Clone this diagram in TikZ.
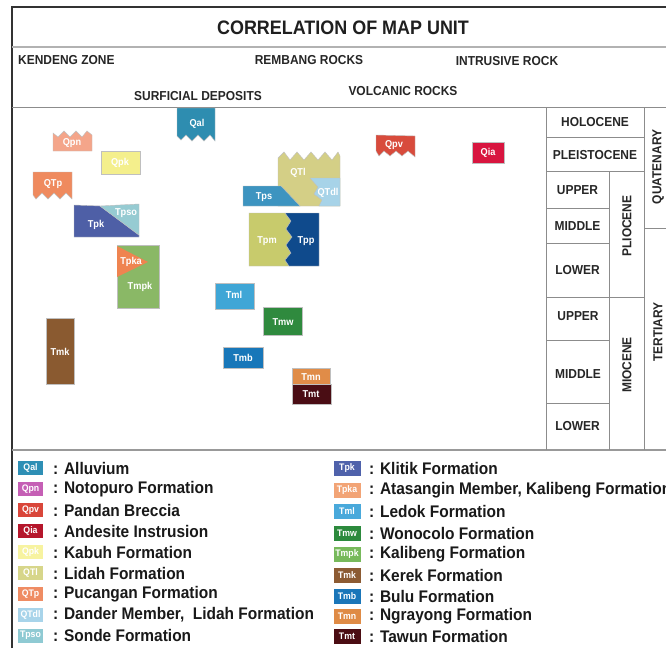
\documentclass[tikz,border=0pt]{standalone}
\usepackage{fontspec}
\setmainfont{Liberation Sans}[FakeStretch=0.92]
\definecolor{cQal}{HTML}{2E8DB0}
\definecolor{cQpn}{HTML}{F4A58A}
\definecolor{cQpk}{HTML}{F4EF8C}
\definecolor{cQTp}{HTML}{EF8A5E}
\definecolor{cTpk}{HTML}{4E5FA6}
\definecolor{cTpso}{HTML}{96CBD2}
\definecolor{cTpka}{HTML}{EF8450}
\definecolor{cTmpk}{HTML}{8AB866}
\definecolor{cTmk}{HTML}{8A5A30}
\definecolor{cTml}{HTML}{3FA6D6}
\definecolor{cTmw}{HTML}{2F8A3E}
\definecolor{cTmb}{HTML}{1877B9}
\definecolor{cTmn}{HTML}{E08C48}
\definecolor{cTmt}{HTML}{4A0D14}
\definecolor{cTps}{HTML}{3D94C0}
\definecolor{cQTl}{HTML}{D4CF86}
\definecolor{cQTdl}{HTML}{A7D3E8}
\definecolor{cTpm}{HTML}{C8CB6C}
\definecolor{cTpp}{HTML}{0F4A8C}
\definecolor{cQpv}{HTML}{D84B3C}
\definecolor{cQia}{HTML}{D8153F}
% legend colours
\definecolor{lQal}{HTML}{2E8FB5}
\definecolor{lQpn}{HTML}{C55FB5}
\definecolor{lQpv}{HTML}{D9463A}
\definecolor{lQia}{HTML}{B5162B}
\definecolor{lQpk}{HTML}{F7F3A0}
\definecolor{lQTl}{HTML}{D7D68A}
\definecolor{lQTp}{HTML}{EF8C63}
\definecolor{lQTdl}{HTML}{A8D4EA}
\definecolor{lTpso}{HTML}{8FCAD3}
\definecolor{lTpk}{HTML}{4F62AB}
\definecolor{lTpka}{HTML}{F2A476}
\definecolor{lTml}{HTML}{49A9DB}
\definecolor{lTmw}{HTML}{2C8A3D}
\definecolor{lTmpk}{HTML}{77B95B}
\definecolor{lTmk}{HTML}{8C5B33}
\definecolor{lTmb}{HTML}{1A76B9}
\definecolor{lTmn}{HTML}{DF8B45}
\definecolor{lTmt}{HTML}{4B0D13}
\definecolor{gridc}{HTML}{8C8C8C}
\begin{document}
\begin{tikzpicture}[x=1pt,y=-1pt,
  ttl/.style={font=\bfseries\fontsize{19.5}{20}\selectfont, text=black!88, inner sep=0},
  hdr/.style={font=\bfseries\fontsize{13}{13}\selectfont, text=black!85, inner sep=0},
  tlab/.style={font=\bfseries\fontsize{13}{13}\selectfont, text=black!85, inner sep=0},
  ulbl/.style={font=\bfseries\fontsize{10}{10}\selectfont, text=white, inner sep=0},
  unit/.style={draw=black!25, line width=0.4},
  gridl/.style={draw=gridc, line width=0.9},
  lgiconL/.style={minimum width=25, minimum height=14, inner sep=0, font=\bfseries\fontsize{9.5}{9.5}\selectfont, text=white},
  lgiconR/.style={minimum width=27, minimum height=15, inner sep=0, font=\bfseries\fontsize{9.5}{9.5}\selectfont, text=white},
  lgtxt/.style={anchor=west, font=\bfseries\fontsize{16.8}{17}\selectfont, text=black!90, inner sep=0}
]
\useasboundingbox (0,0) rectangle (666,648);
\clip (0,0) rectangle (666,648);
\fill[white] (0,0) rectangle (666,648);

% frame
\draw[draw=black!80, line width=1.2] (12,648) -- (12,7) -- (666,7);
\draw[draw=black!30, line width=2.2] (12,47) -- (666,47);
\draw[draw=gridc, line width=1] (12,107) -- (666,107);
\draw[draw=black!40, line width=1.2] (12,450) -- (666,450);

% title and headers
\node[ttl] (title) at (343,28) {CORRELATION OF MAP UNIT};
\node[hdr, anchor=west] (kendeng) at (18,60) {KENDENG ZONE};
\node[hdr] (rembang) at (309,60) {REMBANG ROCKS};
\node[hdr] (intrusive) at (507,61) {INTRUSIVE ROCK};
\node[hdr] (surficial) at (198,96) {SURFICIAL DEPOSITS};
\node[hdr] (volcanic) at (403,91) {VOLCANIC ROCKS};

% time scale grid
\draw[gridl] (546,107) -- (546,450);
\draw[gridl] (609,171) -- (609,450);
\draw[gridl] (644,107) -- (644,450);
\draw[gridl] (546,137) -- (644,137);
\draw[gridl] (546,171) -- (644,171);
\draw[gridl] (546,208) -- (609,208);
\draw[gridl] (546,243) -- (609,243);
\draw[gridl] (546,297) -- (644,297);
\draw[gridl] (546,340) -- (609,340);
\draw[gridl] (546,403) -- (609,403);
\draw[gridl] (644,228) -- (666,228);

\node[tlab] (holo) at (595,122) {HOLOCENE};
\node[tlab] (pleis) at (595,155) {PLEISTOCENE};
\node[tlab] (pupper) at (577.5,190) {UPPER};
\node[tlab] (pmiddle) at (577.5,226) {MIDDLE};
\node[tlab] (plower) at (577.5,270) {LOWER};
\node[tlab] (mupper) at (578,316) {UPPER};
\node[tlab] (mmiddle) at (578,374) {MIDDLE};
\node[tlab] (mlower) at (577.5,426) {LOWER};
\node[tlab, rotate=90] (plio) at (627,226) {PLIOCENE};
\node[tlab, rotate=90] (mio) at (627,365) {MIOCENE};
\node[tlab, rotate=90] (quat) at (658,167) {QUATENARY};
\node[tlab, rotate=90] (tert) at (658,332) {TERTIARY};

% map units
\fill[cQal, unit] (177,108) -- (215,108) -- (215,141) -- (210,135) -- (204,141) -- (198,135) -- (192,141) -- (186,135) -- (181,140) -- (177,136) -- cycle;
\node[ulbl] (uQal) at (197,124) {Qal};

\fill[cQpn, unit] (53,151) -- (92,151) -- (92,135) -- (87,131) -- (82,137) -- (76,131) -- (70,137) -- (64,131) -- (58,137) -- (53,133) -- cycle;
\node[ulbl] (uQpn) at (72,143) {Qpn};

\fill[cQpk, unit] (101,151) rectangle (140,174);
\node[ulbl] (uQpk) at (120,163) {Qpk};

\fill[cQTp, unit] (33,172) -- (72,172) -- (72,199) -- (66,193) -- (60,199) -- (54,193) -- (48,199) -- (42,193) -- (36,199) -- (33,195) -- cycle;
\node[ulbl] (uQTp) at (53,184) {QTp};

\fill[cTpk, unit] (74,205) -- (100,206) -- (139,235) -- (139,237) -- (74,237) -- cycle;
\fill[cTpso, unit] (100,206) -- (139,204) -- (139,235) -- cycle;
\node[ulbl] (uTpk) at (96,225) {Tpk};
\node[ulbl] (uTpso) at (126,213) {Tpso};

\fill[cTmpk, unit] (117,245) rectangle (159,308);
\fill[cTpka] (117,246) -- (148,262) -- (117,277) -- cycle;
\node[ulbl] (uTpka) at (131,262) {Tpka};
\node[ulbl] (uTmpk) at (140,287) {Tmpk};

\fill[cQTl, unit] (278,206) -- (278,158) -- (284,152) -- (290,160) -- (297,152) -- (304,160) -- (311,152) -- (318,160) -- (325,152) -- (332,160) -- (338,152) -- (340,156) -- (340,206) -- cycle;
\fill[cTps, unit] (243,186) -- (281,186) -- (300,206) -- (243,206) -- cycle;
\fill[cQTdl, unit] (310,178) -- (340,178) -- (340,206) -- (319,206) -- (322,200) -- (314,194) -- (318,187) -- cycle;
\node[ulbl] (uQTl) at (298,173) {QTl};
\node[ulbl] (uTps) at (264,197) {Tps};
\node[ulbl] (uQTdl) at (328,193) {QTdl};

\fill[cTpm, unit] (249,213) -- (285,213) -- (291,221) -- (286,229) -- (292,237) -- (286,245) -- (291,253) -- (285,260) -- (289,266) -- (249,266) -- cycle;
\fill[cTpp, unit] (285,213) -- (319,213) -- (319,266) -- (289,266) -- (285,260) -- (291,253) -- (286,245) -- (292,237) -- (286,229) -- (291,221) -- cycle;
\node[ulbl] (uTpm) at (267,241) {Tpm};
\node[ulbl] (uTpp) at (306,241) {Tpp};

\fill[cQpv, unit] (376,135) -- (415,136) -- (415,157) -- (408,151) -- (402,156) -- (396,151) -- (390,156) -- (384,151) -- (379,156) -- (376,151) -- cycle;
\node[ulbl] (uQpv) at (394,145) {Qpv};

\fill[cQia, unit] (472,142) rectangle (504,163);
\node[ulbl] (uQia) at (488,153) {Qia};

\fill[cTml, unit] (215,283) rectangle (254,309);
\node[ulbl] (uTml) at (234,295) {Tml};

\fill[cTmw, unit] (263,307) rectangle (302,335);
\node[ulbl] (uTmw) at (283,322) {Tmw};

\fill[cTmk, unit] (46,318) rectangle (74,384);
\node[ulbl] (uTmk) at (60,352) {Tmk};

\fill[cTmb, unit] (223,347) rectangle (263,368);
\node[ulbl] (uTmb) at (243,358) {Tmb};

\fill[cTmn, unit] (292,368) rectangle (330,384);
\fill[cTmt, unit] (292,384) rectangle (331,404);
\node[ulbl] (uTmn) at (311,377) {Tmn};
\node[ulbl] (uTmt) at (311,394) {Tmt};

% legend left column
\node[lgiconL, fill=lQal] (iQal) at (30.5,468) {Qal};
\node[lgtxt] (tQal) at (53,468) {: Alluvium};
\node[lgiconL, fill=lQpn] (iQpn) at (30.5,489) {Qpn};
\node[lgtxt] (tQpn) at (53,489) {: Notopuro Formation};
\node[lgiconL, fill=lQpv] (iQpv) at (30.5,510) {Qpv};
\node[lgtxt] (tQpv) at (53,510) {: Pandan Breccia};
\node[lgiconL, fill=lQia] (iQia) at (30.5,531) {Qia};
\node[lgtxt] (tQia) at (53,531) {: Andesite Instrusion};
\node[lgiconL, fill=lQpk] (iQpk) at (30.5,552) {Qpk};
\node[lgtxt] (tQpk) at (53,552) {: Kabuh Formation};
\node[lgiconL, fill=lQTl] (iQTl) at (30.5,573) {QTl};
\node[lgtxt] (tQTl) at (53,573) {: Lidah Formation};
\node[lgiconL, fill=lQTp] (iQTp) at (30.5,594) {QTp};
\node[lgtxt] (tQTp) at (53,594) {: Pucangan Formation};
\node[lgiconL, fill=lQTdl] (iQTdl) at (30.5,615) {QTdl};
\node[lgtxt] (tQTdl) at (53,615) {: Dander Member,\ \ Lidah Formation};
\node[lgiconL, fill=lTpso] (iTpso) at (30.5,635.5) {Tpso};
\node[lgtxt] (tTpso) at (53,635.5) {: Sonde Formation};

% legend right column
\node[lgiconR, fill=lTpk] (iTpk) at (347,468) {Tpk};
\node[lgtxt] (tTpk) at (369,468) {: Klitik Formation};
\node[lgiconR, fill=lTpka] (iTpka) at (347,490) {Tpka};
\node[lgtxt] (tTpka) at (369,490) {: Atasangin Member, Kalibeng Formation};
\node[lgiconR, fill=lTml] (iTml) at (347,511.5) {Tml};
\node[lgtxt] (tTml) at (369,511.5) {: Ledok Formation};
\node[lgiconR, fill=lTmw] (iTmw) at (347,533) {Tmw};
\node[lgtxt] (tTmw) at (369,533) {: Wonocolo Formation};
\node[lgiconR, fill=lTmpk] (iTmpk) at (347,554) {Tmpk};
\node[lgtxt] (tTmpk) at (369,554) {: Kalibeng Formation};
\node[lgiconR, fill=lTmk] (iTmk) at (347,575.5) {Tmk};
\node[lgtxt] (tTmk) at (369,575.5) {: Kerek Formation};
\node[lgiconR, fill=lTmb] (iTmb) at (347,596) {Tmb};
\node[lgtxt] (tTmb) at (369,596) {: Bulu Formation};
\node[lgiconR, fill=lTmn] (iTmn) at (347,616.5) {Tmn};
\node[lgtxt] (tTmn) at (369,616.5) {: Ngrayong Formation};
\node[lgiconR, fill=lTmt] (iTmt) at (347,636.5) {Tmt};
\node[lgtxt] (tTmt) at (369,636.5) {: Tawun Formation};
\end{tikzpicture}
\end{document}
